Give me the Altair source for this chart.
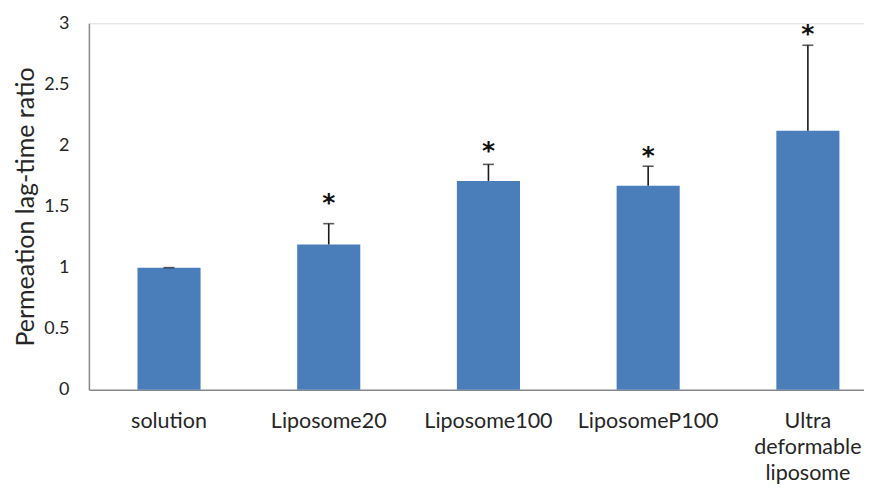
import altair as alt
import pandas as pd

categories = ["solution", "Liposome20", "Liposome100", "LiposomeP100", "Ultra deformable liposome"]
means = [1.0, 1.19, 1.71, 1.67, 2.12]
upper = [1.0, 1.36, 1.845, 1.83, 2.82]
star_pos = [None, 1.58, 2.0, 1.96, 2.96]
y_ticks = [0, 0.5, 1, 1.5, 2, 2.5, 3]

df = pd.DataFrame({"cat": categories, "mean": means, "upper": upper, "star": star_pos})
stars = df.dropna(subset=["star"]).assign(label="*")

FONT = "Lato"

x = alt.X(
    "cat:N",
    sort=categories,
    title=None,
    scale=alt.Scale(paddingInner=0.605, paddingOuter=0.229, align=0.664),
    axis=alt.Axis(
        labelAngle=0,
        ticks=False,
        domainColor="#898989",
        domainWidth=1.5,
        labelColor="#262626",
        labelFont=FONT,
        labelFontSize=21.5,
        labelPadding=21,
        labelLineHeight=26,
        labelLimit=300,
        labelExpr="datum.value == 'Ultra deformable liposome' ? ['Ultra', 'deformable', 'liposome'] : datum.label",
    ),
)

y_scale = alt.Scale(domain=[0, 3], nice=False)

bars = alt.Chart(df).mark_bar(color="#4A7EBB").encode(
    x=x,
    y=alt.Y(
        "mean:Q",
        scale=y_scale,
        title="Permeation lag-time ratio",
        axis=alt.Axis(
            values=y_ticks,
            format="~g",
            grid=False,
            ticks=False,
            domainColor="#898989",
            domainWidth=1.5,
            labelColor="#262626",
            labelFont=FONT,
            labelFontSize=18,
            labelPadding=20,
            titleFont=FONT,
            titleFontSize=25,
            titleFontWeight="normal",
            titleColor="#262626",
            titlePadding=5,
        ),
    ),
)

rules = alt.Chart(df).mark_rule(color="#1a1a1a", strokeWidth=1.6).encode(
    x=alt.X("cat:N", sort=categories),
    y=alt.Y("mean:Q", scale=y_scale),
    y2="upper:Q",
)

caps = alt.Chart(df).mark_tick(color="#1a1a1a", thickness=1.6, size=11, orient="horizontal").encode(
    x=alt.X("cat:N", sort=categories),
    y=alt.Y("upper:Q", scale=y_scale),
)

star_text = alt.Chart(stars).mark_text(
    fontSize=25, font="DejaVu Sans", fontWeight="bold", color="#111111", baseline="middle", dy=6
).encode(
    x=alt.X("cat:N", sort=categories),
    y=alt.Y("star:Q", scale=y_scale),
    text="label:N",
)

chart = (
    alt.layer(bars, rules, caps, star_text)
    .properties(width=776, height=367, padding={"left": 5, "top": 6, "right": 0, "bottom": 0})
    .configure_view(stroke=None)
    .configure(background="white")
)

chart.save("out.html", embed_options={"renderer": "svg", "actions": False})
